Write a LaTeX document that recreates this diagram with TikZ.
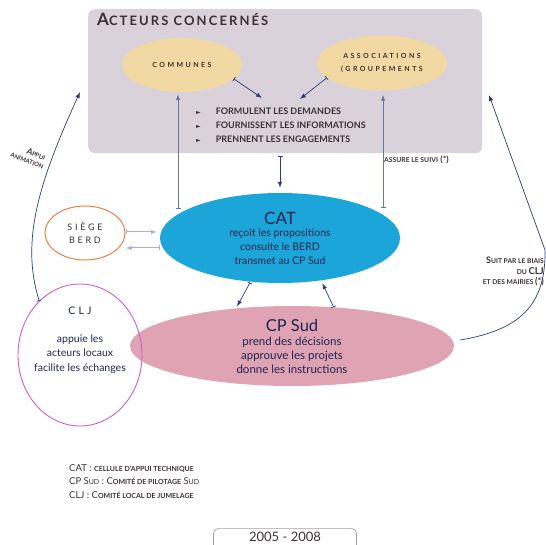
\documentclass[tikz,border=0pt]{standalone}
\usepackage{fontspec}
\setmainfont{Lato}
\newfontfamily\simbolos{DejaVu Sans}
\usetikzlibrary{shapes.geometric,arrows.meta}

\definecolor{fondo}{HTML}{DAD2DB}
\definecolor{arena}{HTML}{F2D8A2}
\definecolor{celeste}{HTML}{1BA5D8}
\definecolor{rosa}{HTML}{DFA3B4}
\definecolor{naranja}{HTML}{EE7E45}
\definecolor{violeta}{HTML}{CF5ACB}
\definecolor{azul}{HTML}{2B3B7E}
\definecolor{grisazul}{HTML}{6E7696}
\definecolor{lila}{HTML}{B4ACD8}
\definecolor{texto}{HTML}{1E2550}
\definecolor{marron}{HTML}{3A3232}
\definecolor{borde}{HTML}{A0A0A0}

\newcommand\pc[2]{{\fontsize{#1}{#1}\selectfont #2}}

\begin{document}
\begin{tikzpicture}[x=1pt, y=-1pt,
    ovalo/.style={ellipse, inner sep=0pt},
    flecha/.style={azul, line width=0.7pt, {Bar[width=5pt]}-{Latex[length=6pt,width=4.5pt]}},
    flechagris/.style={grisazul, line width=0.9pt, {Bar[width=5pt]}-{Latex[length=6pt,width=4.5pt]}},
    flechalila/.style={lila, line width=1pt, {Bar[width=5pt]}-{Latex[length=6pt,width=4.5pt]}}]
    \useasboundingbox (0,0) rectangle (546,545);

    % Cuadro de actores
    \node[fill=fondo, rounded corners=7pt, minimum width=394, minimum height=144, anchor=north west, inner sep=0pt] (acteurs) at (88,9) {};
    \node[anchor=base west, inner sep=0pt, font=\bfseries\addfontfeature{LetterSpace=16}, text=marron] (titulo) at (97,26) {\pc{17}{A}\pc{13}{CTEURS CONCERNÉS}};

    % Elipses de actores
    \node[ovalo, fill=arena, minimum width=120, minimum height=54, text=marron, font=\bfseries\fontsize{7}{7}\selectfont\addfontfeature{LetterSpace=35}] (communes) at (182,65) {COMMUNES};
    \node[ovalo, fill=arena, minimum width=130, minimum height=55, align=center, text=marron, font=\bfseries\fontsize{7}{13}\selectfont\addfontfeature{LetterSpace=35}] (assoc) at (382,63) {ASSOCIATIONS\\(GROUPEMENTS};

    % Lista
    \node[anchor=north west, inner sep=0pt, align=left, text=marron, font=\bfseries\fontsize{9}{14}\selectfont] (lista) at (196,108) {\pc{6}{\simbolos ►}\hspace{15pt}FORMULENT LES DEMANDES\\\pc{6}{\simbolos ►}\hspace{15pt}FOURNISSENT LES INFORMATIONS\\\pc{6}{\simbolos ►}\hspace{15pt}PRENNENT LES ENGAGEMENTS};
    \coordinate (pflecha1) at (262,98);
    \coordinate (pflecha2) at (300,99);
    \draw[flecha] (communes.-15) -- (pflecha1);
    \draw[flecha] (assoc.195) -- (pflecha2);

    % CAT
    \node[ovalo, inner ysep=-8pt, fill=celeste, minimum width=240, minimum height=90, align=center, text=texto, font=\fontsize{10.5}{13.7}\selectfont] (cat) at (280,238) {\pc{17}{CAT}\\[-1pt]reçoit les propositions\\consulte le BERD\\transmet au CP Sud};

    % Siege BERD
    \node[ovalo, draw=naranja, line width=1pt, fill=white, minimum width=80, minimum height=54, align=center, text=marron, font=\fontsize{9}{13.5}\selectfont\addfontfeature{LetterSpace=30}] (siege) at (85,233) {SIÈGE\\BERD};

    % CP Sud
    \node[ovalo, inner ysep=-8pt, fill=rosa, minimum width=324, minimum height=80, align=center, text=texto, font=\fontsize{11.5}{14}\selectfont] (cpsud) at (292,346) {\pc{16.5}{CP Sud}\\prend des décisions\\approuve les projets\\donne les instructions};

    % CLJ
    \node[ovalo, draw=violeta, line width=0.9pt, minimum width=124, minimum height=142] (clj) at (80,355) {};
    \node[align=center, text=texto, font=\fontsize{10.5}{14.3}\selectfont] (cljtexto) at (80,340) {{\addfontfeature{LetterSpace=30}CLJ}\\[14pt]appuie les\\acteurs locaux\\facilite les échanges};

    % Flechas verticales
    \coordinate (base1) at (178,209);
    \coordinate (base2) at (383,208);
    \draw[flechagris, shorten >=2pt] (base1) -- (base1 |- communes.south);
    \draw[flechagris, shorten >=4pt] (base2) -- (base2 |- assoc.south);
    \draw[flecha, shorten <=3pt, shorten >=5pt] (acteurs.south -| cat.north) -- (cat.north);

    % Flechas con el BERD
    \draw[flechalila, shorten >=3pt] ([yshift=1pt]siege.east) -- ([yshift=6pt]cat.west);
    \draw[flechalila] ([yshift=-10pt]cat.west) -- ([yshift=-15pt]siege.east);

    % CAT y CP Sud
    \draw[flecha, shorten <=1pt, shorten >=2pt] (cat.-124) -- (cpsud.146);
    \draw[flecha, shorten >=3pt] (cpsud.43) -- (cat.-46);

    % Curvas laterales
    \coordinate (appui) at (80,92);
    \draw[flecha] (clj.127) .. controls (20,240) and (40,180) .. (appui);
    \node[rotate=-22, align=center, text=marron, font=\bfseries\fontsize{6}{9}\selectfont] (lappui) at (29,156) {\hspace{12pt}\pc{8.5}{A}PPUI\\ANIMATION};

    \coordinate (suivi) at (489,95);
    \draw[azul, line width=0.7pt, -{Latex[length=6pt,width=4.5pt]}] ([shift={(6pt,6pt)}]cpsud.east) .. controls (520,330) and (546,305) .. (545,250) -- (suivi);
    \node[anchor=base west, inner sep=0pt, text=marron, font=\bfseries] (lsuivi) at (384,163) {\pc{6.8}{ASSURE LE SUIVI} \pc{8.5}{(*)}};
    \node[anchor=north east, align=right, inner sep=0pt, text=marron, font=\bfseries\fontsize{6.7}{10.5}\selectfont] (lsuit) at (544,257) {\pc{9}{S}UIT PAR LE BIAIS\\DU \pc{9.5}{CLJ}\\ET DES MAIRIES \pc{9}{(*)}};

    % Leyenda
    \node[anchor=base west, inner sep=0pt, text=marron, font=\fontsize{9.5}{9.5}\selectfont] (legcat) at (69,471) {CAT : \pc{7}{\bfseries CELLULE D’APPUI TECHNIQUE}};
    \node[anchor=base west, inner sep=0pt, text=marron, font=\fontsize{9.5}{9.5}\selectfont] (legcp) at (69,484) {CP S\pc{7}{UD} : C\pc{7}{\bfseries OMITÉ DE PILOTAGE} S\pc{7}{UD}};
    \node[anchor=base west, inner sep=0pt, text=marron, font=\fontsize{9.5}{9.5}\selectfont] (legclj) at (69,498) {CLJ : C\pc{7}{\bfseries OMITÉ LOCAL DE JUMELAGE}};

    % Periodo
    \node[draw=borde, rounded corners=5pt, line width=0.7pt, anchor=north, minimum width=143, inner ysep=2pt, text height=11pt, text depth=18pt, text=marron, font=\fontsize{13}{13}\selectfont] (periodo) at (285,528) {2005 - 2008};
\end{tikzpicture}
\end{document}
